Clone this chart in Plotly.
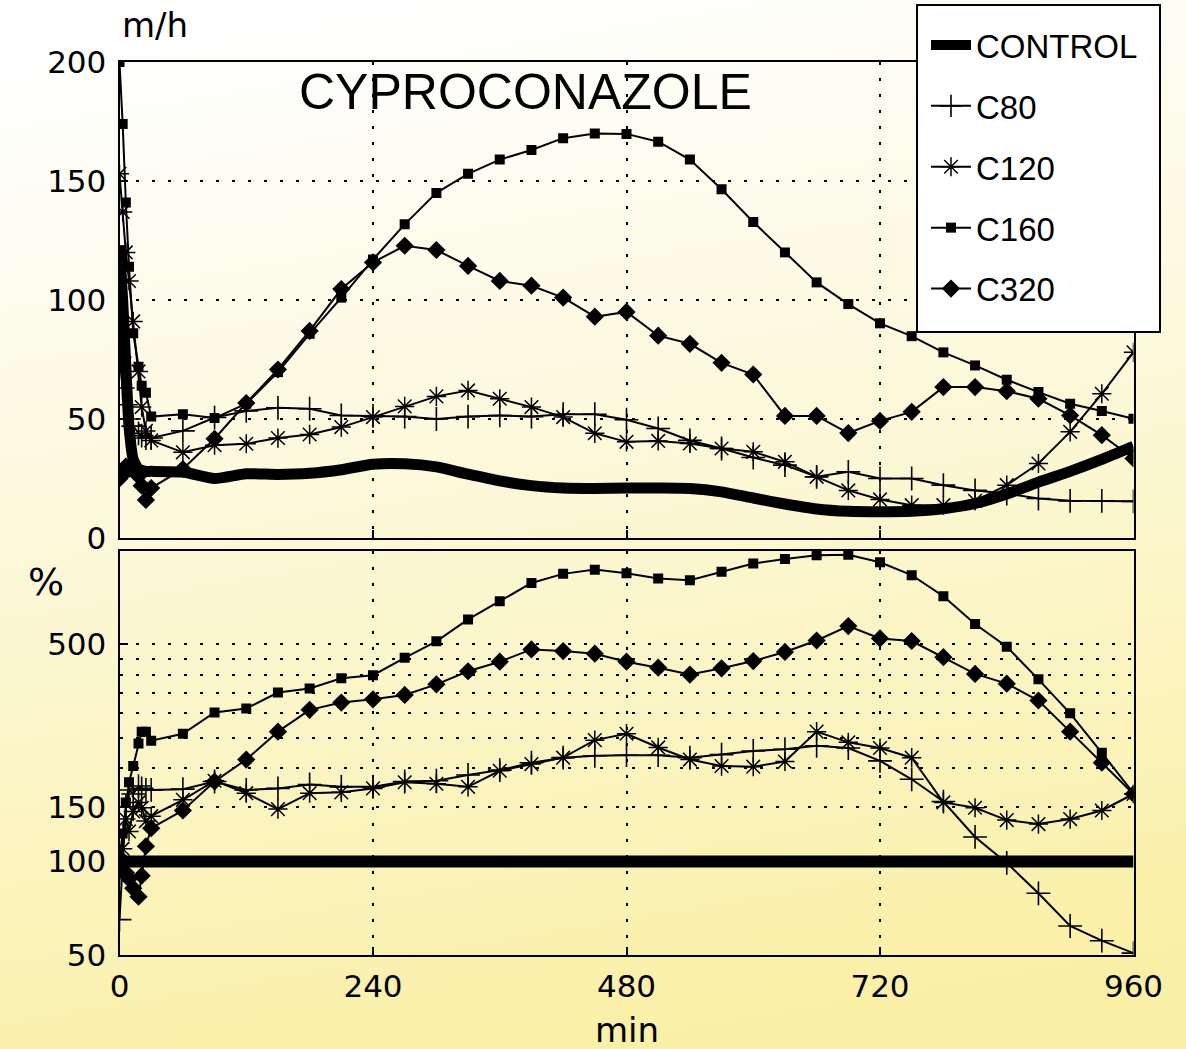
import base64, struct, zlib
import numpy as np
import plotly.graph_objects as go

# ---------------- data ----------------
minutes = [0, 3, 6, 9, 13, 18, 21, 25, 30,
           60, 90, 120, 150, 180, 210, 240, 270, 300, 330, 360, 390, 420, 450,
           480, 510, 540, 570, 600, 630, 660, 690, 720, 750, 780, 810, 840, 870,
           900, 930, 960]

# top panel: speed (m/h)
control_mh = [123, 100, 72, 47, 33, 29, 28.5, 28, 28,
              27.7, 25, 27, 26.7, 27.2, 28.7, 31, 31.2, 29.9, 26.8, 24, 22, 21, 20.8,
              21, 21, 20.8, 19.4, 16.8, 14.3, 12.2, 11.2, 11, 11.2, 12.3, 14.5, 18.5, 23.5,
              28, 33, 38.5]
c80_mh = [76, 63, 56, 50, 47, 44, 43, 42, 42,
          45, 50.6, 53.4, 54.7, 54.3, 51.5, 51.3, 51, 50, 51, 51.5, 51, 52, 52,
          49.7, 46, 41, 37.6, 33.8, 30.6, 25.7, 27.8, 25, 25, 22.2, 20, 18.7, 16.6,
          15.6, 15.6, 15.4]
c120_mh = [153, 137, 120, 108, 91, 70, 55, 45, 41,
           36, 39, 39.6, 42, 43.5, 46.6, 50.8, 55.3, 59.5, 62, 58.5, 55, 50.8, 44,
           40.4, 40.8, 39.7, 37.6, 36.2, 32, 25.7, 20, 16.2, 13.8, 13.8, 15.6, 22.2, 31.3,
           44.6, 60.6, 78]
c160_mh = [200, 174, 141, 114, 86, 72, 64, 61, 51,
           52, 50.4, 56.4, 69.7, 85.8, 101, 117, 131.8, 145, 153, 159, 163, 168, 170,
           169.8, 166.5, 159, 146.5, 132.8, 120, 107.4, 98.3, 90.2, 84.8, 78, 72.5, 66.5, 61.3,
           56.4, 53.4, 50.1]
c320_mh = [25, 27, 30, 29, 29, 26, 22, 16, 21,
           29, 41.7, 56.7, 70.8, 87, 104.6, 115.8, 122.8, 121, 114.3, 108, 106, 101, 93,
           95, 85, 81.6, 73.6, 68.7, 51.3, 51.3, 44.1, 49.2, 53, 63.4, 63.4, 61.7, 58.5,
           51.5, 43.2, 33.4]

# bottom panel: percent of control (log axis)
control_pct = [100] * len(minutes)
c80_pct = [65, 100, 150, 170, 165, 175, 172, 170, 170,
           171, 181, 170, 172, 177, 174, 174, 181, 182, 190, 197, 208, 216, 219,
           220, 220, 216, 221, 227, 230, 236, 232, 211, 184, 156, 120, 99, 79,
           62, 55.6, 50.7]
c120_pct = [90, 110, 137, 125, 145, 155, 149, 135, 140,
            158, 182, 166, 147.5, 166, 167, 172, 180, 178, 174, 196, 206, 216, 246,
            258, 233, 213, 203, 202, 210, 262, 242, 232, 216, 155, 149, 136, 132,
            137, 146, 165]
c160_pct = [102, 123, 155, 180, 203, 240, 262, 262, 245,
            258, 302, 311, 350, 361, 389, 398, 453, 512, 602, 689, 789, 844, 871,
            848, 815, 805, 857, 911, 943, 969, 973, 920, 836, 715, 582, 492, 386,
            300, 224, 166]
c320_pct = [103, 98, 92, 88, 82, 77, 90, 112, 128,
            146, 181, 213, 262, 308, 325, 333, 344, 372, 410, 440, 482, 476, 467,
            440, 421, 400, 419, 442, 473, 515, 573, 523, 513, 455, 402, 374, 330,
            262, 208, 165]

series_names = ["CONTROL", "C80", "C120", "C160", "C320"]
x_ticks = [0, 240, 480, 720, 960]
top_ticks = [0, 50, 100, 150, 200]
bottom_ticks = [50, 100, 150, 500]
bottom_minor_grid = [200, 250, 300, 350, 400, 450]

# ---------------- background gradient image ----------------
W, H = 1186, 1049


def gradient_png(w, h):
    yy, xx = np.mgrid[0:h, 0:w]
    t = np.clip((yy / (h - 1)) * 0.95 + (xx / (w - 1)) * 0.18 - 0.05, 0, 1) ** 1.1
    top = np.array([255, 255, 255], float)
    bot = np.array([250, 240, 165], float)
    img = (top[None, None, :] * (1 - t[..., None]) + bot[None, None, :] * t[..., None]).astype(np.uint8)
    raw = b"".join(b"\x00" + img[r].tobytes() for r in range(h))

    def chunk(tag, data):
        c = tag + data
        return struct.pack(">I", len(data)) + c + struct.pack(">I", zlib.crc32(c) & 0xFFFFFFFF)

    png = b"\x89PNG\r\n\x1a\n" + chunk(b"IHDR", struct.pack(">IIBBBBB", w, h, 8, 2, 0, 0, 0))
    png += chunk(b"IDAT", zlib.compress(raw, 9)) + chunk(b"IEND", b"")
    return "data:image/png;base64," + base64.b64encode(png).decode()


# ---------------- figure ----------------
fig = go.Figure()

styles = {
    "CONTROL": dict(mode="lines", line=dict(color="black", width=11, shape="spline", smoothing=0.6)),
    "C80": dict(mode="lines+markers", line=dict(color="black", width=2),
                marker=dict(symbol="cross-thin-open", size=17, color="black",
                            line=dict(color="black", width=1.6))),
    "C120": dict(mode="lines+markers", line=dict(color="black", width=2),
                 marker=dict(symbol="asterisk-open", size=16, color="black",
                             line=dict(color="black", width=1.5))),
    "C160": dict(mode="lines+markers", line=dict(color="black", width=2),
                 marker=dict(symbol="square", size=10, color="black")),
    "C320": dict(mode="lines+markers", line=dict(color="black", width=2),
                 marker=dict(symbol="diamond", size=14, color="black")),
}

top_data = [control_mh, c80_mh, c120_mh, c160_mh, c320_mh]
bot_data = [control_pct, c80_pct, c120_pct, c160_pct, c320_pct]

for name, ys in zip(series_names, top_data):
    fig.add_trace(go.Scatter(x=minutes, y=ys, name=name, xaxis="x", yaxis="y",
                             legendgroup=name, showlegend=True, **styles[name]))
for name, ys in zip(series_names, bot_data):
    st = dict(styles[name])
    if name == "CONTROL":
        st = dict(mode="lines", line=dict(color="black", width=12))
    fig.add_trace(go.Scatter(x=minutes, y=ys, name=name, xaxis="x2", yaxis="y2",
                             legendgroup=name, showlegend=False, **st))

xdom = [119.5 / W, 1133.5 / W]
top_dom = [1 - 538 / H, 1 - 62 / H]
bot_dom = [1 - 955 / H, 1 - 551 / H]

tick_font = dict(family="DejaVu Sans", size=31, color="black")
grid_common = dict(showgrid=True, gridcolor="black", gridwidth=2, griddash="3px,13px",
                   showline=True, linecolor="black", linewidth=2, mirror=True,
                   ticks="inside", ticklen=8, tickwidth=2, tickcolor="black",
                   zeroline=False, automargin=False, tickfont=tick_font)

fig.update_layout(
    width=W, height=H,
    margin=dict(l=0, r=0, t=0, b=0),
    paper_bgcolor="white",
    plot_bgcolor="white",
    xaxis=dict(domain=xdom, range=[0, 960], tickmode="array", tickvals=x_ticks,
               showticklabels=False, anchor="y", **grid_common),
    yaxis=dict(domain=top_dom, range=[0, 200], tickmode="array", tickvals=top_ticks,
               anchor="x", ticklabelstandoff=5, **grid_common),
    xaxis2=dict(domain=xdom, range=[0, 960], tickmode="array", tickvals=x_ticks,
                anchor="y2", ticklabelstandoff=3, **grid_common),
    yaxis2=dict(domain=bot_dom, type="log", range=[np.log10(50), np.log10(1000)],
                tickmode="array", tickvals=bottom_ticks,
                ticktext=[str(v) for v in bottom_ticks], anchor="x2", ticklabelstandoff=5,
                minor=dict(tickmode="array", tickvals=bottom_minor_grid, showgrid=True,
                           gridcolor="black", gridwidth=2, griddash="3px,13px", ticks=""),
                **grid_common),
    showlegend=True,
    legend=dict(x=926 / W, y=1 - 17 / H, xanchor="left", yanchor="top",
                bgcolor="rgba(0,0,0,0)", borderwidth=0,
                font=dict(family="Liberation Sans", size=33, color="black"),
                itemwidth=40, tracegroupgap=15, itemsizing="trace"),
    shapes=[dict(type="rect", xref="paper", yref="paper",
                 x0=917 / W, x1=1160 / W, y0=1 - 332 / H, y1=1 - 5 / H,
                 fillcolor="white", line=dict(color="black", width=2), layer="above")],
    images=[dict(source=gradient_png(W // 4, H // 4), xref="paper", yref="paper",
                 x=0, y=1, sizex=1, sizey=1, sizing="stretch", layer="below",
                 xanchor="left", yanchor="top")],
    annotations=[
        dict(text="CYPROCONAZOLE", x=525 / W, y=1 - 92 / H, xref="paper", yref="paper",
             xanchor="center", yanchor="middle",
             showarrow=False, font=dict(family="Liberation Sans", size=50, color="black")),
        dict(text="m/h", x=120 / W, y=1 - 25 / H, xref="paper", yref="paper",
             xanchor="left", yanchor="middle", showarrow=False,
             font=dict(family="DejaVu Sans", size=34, color="black")),
        dict(text="%", x=46 / W, y=1 - 582 / H, xref="paper", yref="paper",
             xanchor="center", yanchor="middle", showarrow=False,
             font=dict(family="DejaVu Sans", size=38, color="black")),
        dict(text="min", x=627 / W, y=1 - 1030 / H, xref="paper", yref="paper",
             xanchor="center", yanchor="middle", showarrow=False,
             font=dict(family="DejaVu Sans", size=34, color="black")),
    ],
)

fig.write_html("out.html", config={"displayModeBar": False},
               post_script="document.body.style.margin='0';")
